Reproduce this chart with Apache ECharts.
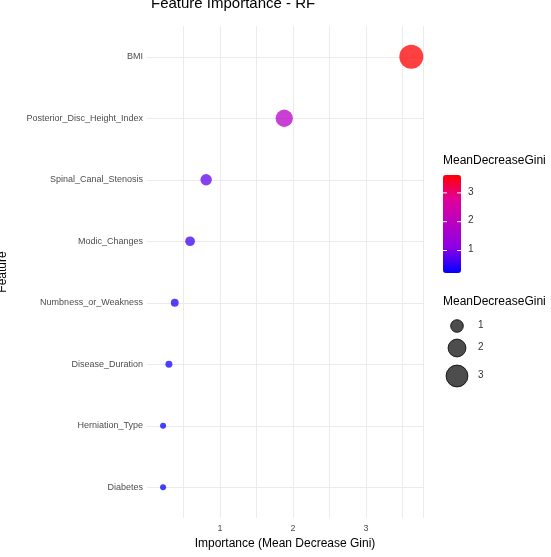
<!DOCTYPE html><html><head><meta charset="utf-8"><script src="https://cdn.jsdelivr.net/npm/echarts@6/dist/echarts.min.js"></script></head><body style="margin:0"><div id="c" style="width:551px;height:557px"></div><script>
const features=['BMI','Posterior_Disc_Height_Index','Spinal_Canal_Stenosis','Modic_Changes','Numbness_or_Weakness','Disease_Duration','Herniation_Type','Diabetes'];
const gini=[3.62,1.88,0.81,0.59,0.38,0.30,0.22,0.22];
const sizeLegend=[1,2,3];
const colorTicks=[1,2,3];
const vmin=0.22,vmax=3.62;
function sz(v){const a=36+(v-vmin)/(vmax-vmin)*540;return Math.sqrt(a);}
const f='Liberation Sans, Arial, sans-serif';
const ch=echarts.init(document.getElementById('c'));
const g=[
 {type:'text',style:{text:'MeanDecreaseGini',font:'12px '+f,fill:'#000',x:443,y:155}},
 {type:'text',style:{text:'MeanDecreaseGini',font:'12px '+f,fill:'#000',x:443,y:296}},
];
const cbTop=175,cbH=98;
colorTicks.forEach(t=>{const y=cbTop+cbH-(t-vmin)/(vmax-vmin)*cbH;
 g.push({type:'text',style:{text:String(t),font:'10px '+f,fill:'#333',x:468,y:y-6}});
 g.push({type:'line',shape:{x1:443,y1:y,x2:447,y2:y},style:{stroke:'#fff',lineWidth:1},z:100});
 g.push({type:'line',shape:{x1:457,y1:y,x2:461,y2:y},style:{stroke:'#fff',lineWidth:1},z:100});});
const ys=[326,348,376];
sizeLegend.forEach((v,i)=>{g.push({type:'circle',shape:{cx:457,cy:ys[i],r:sz(v)/2},style:{fill:'#4d4d4d',stroke:'#000',lineWidth:0.8}});
 g.push({type:'text',style:{text:String(v),font:'10px '+f,fill:'#333',x:478,y:ys[i]-6}});});
g.push({type:'text',style:{text:'Feature Importance - RF',font:'15px '+f,fill:'#000',x:151,y:-4}});
ch.setOption({
 animation:false,
 grid:{left:147,right:128,top:26,bottom:39,containLabel:false,outerBoundsMode:'none'},
 xAxis:{type:'value',min:0,max:3.78,interval:0.5,name:'Importance (Mean Decrease Gini)',nameLocation:'middle',nameGap:18,nameTextStyle:{fontSize:12,color:'#000',fontFamily:f},
  axisLine:{show:false},axisTick:{show:false},
  axisLabel:{fontSize:9,color:'#4d4d4d',fontFamily:f,margin:6,showMinLabel:false,formatter:v=>Number.isInteger(v)?String(v):''},
  splitLine:{showMinLine:false,lineStyle:{color:'#ebebeb',width:1}}},
 yAxis:{type:'category',data:features,inverse:true,name:'Feature',nameLocation:'middle',nameGap:138,nameTextStyle:{fontSize:12,color:'#000',fontFamily:f},
  axisLine:{show:false},axisTick:{show:false},axisLabel:{fontSize:9,color:'#4d4d4d',fontFamily:f,margin:4},
  boundaryGap:true,splitLine:{show:false}},
 visualMap:{type:'continuous',min:vmin,max:vmax,dimension:0,seriesIndex:0,left:443,top:cbTop,itemWidth:18,itemHeight:cbH,text:['',''],textGap:0,padding:0,showLabel:false,calculable:false,hoverLink:false,
  inRange:{color:['#0000ff','#8a00e6','#b800c4','#e0009a','#ff0000']}},
 graphic:g,
 series:[{type:'scatter',data:gini.map((v,i)=>[v,features[i]]),symbolSize:d=>sz(d[0]),itemStyle:{opacity:0.75},
  markLine:{silent:true,symbol:'none',label:{show:false},lineStyle:{color:'#ebebeb',type:'solid',width:1},z:0,
   data:features.map(c=>({yAxis:c}))}}]
});
</script></body></html>
